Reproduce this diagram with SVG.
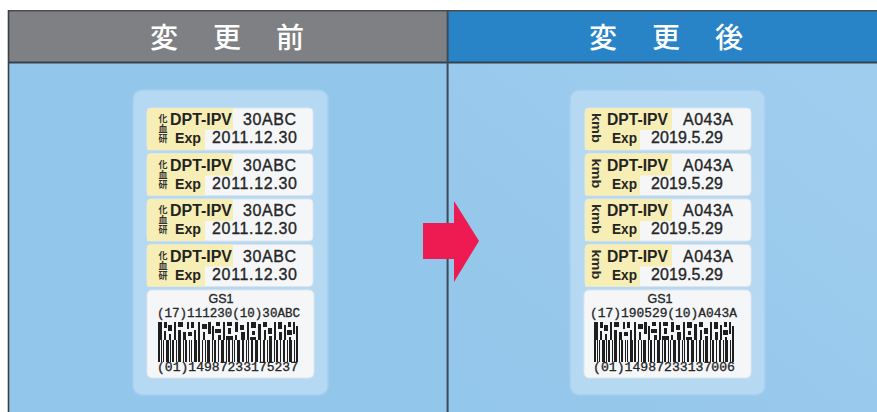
<svg xmlns="http://www.w3.org/2000/svg" width="877" height="412" viewBox="0 0 877 412">
<style>
.hd{font-family:"Noto Sans CJK JP","Noto Sans CJK SC",sans-serif;font-size:28px;font-weight:500;fill:#ffffff;text-anchor:middle}
.b{font-family:"Liberation Sans",Arial,sans-serif;font-weight:bold;fill:#232323}
.r{font-family:"Liberation Sans",Arial,sans-serif;fill:#262626;stroke:#262626;stroke-width:0.35}
.m{font-family:"Liberation Mono","Courier New",monospace;fill:#262626;stroke:#262626;stroke-width:0.3}
.kj{font-family:"Noto Sans CJK JP",sans-serif;font-size:9px;font-weight:bold;fill:#333;text-anchor:middle;writing-mode:vertical-rl;letter-spacing:1px}
.km{font-family:"Liberation Sans",Arial,sans-serif;font-weight:bold;font-size:13.5px;fill:#2a2a2a}
.strip{fill:#f5f6f8;stroke:#dfe4ea;stroke-width:1}
.yel{fill:#f6eeb4}
.card{fill:#b6d9f3;stroke:#a6cdee;stroke-width:1.5}
.bc{fill:#1e1e1e}
</style>
<defs>
<g id="bars">
<path class="bc" d="M0,18h2v22h-2zM3,18h1v22h-1zM5,18h1v22h-1zM8,18h3v22h-3zM12,18h1v22h-1zM14,18h2v22h-2zM18,18h1v22h-1zM20,18h3v22h-3zM25,18h1v22h-1zM27,18h2v22h-2zM31,18h1v22h-1zM33,18h1v22h-1zM36,18h3v22h-3zM40,18h2v22h-2zM44,18h1v22h-1zM47,18h1v22h-1zM49,18h3v22h-3zM54,18h1v22h-1zM56,18h2v22h-2zM60,18h1v22h-1zM63,18h3v22h-3zM68,18h1v22h-1zM70,18h2v22h-2zM74,18h1v22h-1zM76,18h1v22h-1zM79,18h3v22h-3zM84,18h2v22h-2zM88,18h1v22h-1zM90,18h1v22h-1zM93,18h2v22h-2zM97,18h3v22h-3zM102,18h1v22h-1zM105,18h2v22h-2zM109,18h1v22h-1zM111,18h3v22h-3zM116,18h1v22h-1zM118,18h2v22h-2zM122,18h1v22h-1zM125,18h2v22h-2zM129,18h1v22h-1zM131,18h3v22h-3zM136,18h1v22h-1zM138,18h2v22h-2z"/>
<path class="bc" d="M0,0h4v18h-4zM6,0h3v6h-3zM6,9h2v9h-2zM10,3h4v6h-4zM11,12h2v6h-2zM16,0h2v18h-2zM20,0h5v5h-5zM20,8h3v10h-3zM25,10h3v8h-3zM29,0h2v7h-2zM30,10h4v4h-4zM33,0h3v6h-3zM36,8h2v10h-2zM40,0h2v18h-2zM44,2h5v5h-5zM45,10h2v8h-2zM50,0h3v12h-3zM54,4h2v14h-2zM58,0h4v4h-4zM57,7h6v4h-6zM60,13h3v5h-3zM65,0h2v18h-2zM69,0h5v4h-5zM70,6h3v6h-3zM68,14h7v4h-7zM77,0h3v10h-3zM77,13h2v5h-2zM82,3h4v5h-4zM83,10h4v8h-4zM89,0h2v18h-2zM93,0h5v6h-5zM94,9h3v4h-3zM92,15h6v3h-6zM100,2h3v16h-3zM105,0h4v5h-4zM106,8h2v10h-2zM110,6h4v6h-4zM111,14h3v4h-3zM116,0h2v18h-2zM120,0h4v7h-4zM121,10h3v8h-3zM126,3h2v15h-2zM130,0h3v5h-3zM129,8h5v5h-5zM131,15h2v3h-2zM135,0h2v12h-2zM138,4h2v14h-2z"/>
</g>
<linearGradient id="gr" x1="0" y1="1" x2="1" y2="0">
<stop offset="0" stop-color="#93c6eb"/>
<stop offset="1" stop-color="#9fcdee"/>
</linearGradient>
</defs>

<!-- background panels -->
<g id="panels">
<rect x="8" y="62" width="440" height="350" fill="#93c6eb"/>
<rect x="447" y="62" width="430" height="350" fill="url(#gr)"/>
<rect x="8" y="10.5" width="439.5" height="52" fill="#7f8083"/>
<rect x="447.5" y="10.5" width="429.5" height="52" fill="#2884c7"/>
<line x1="8" y1="10.8" x2="877" y2="10.8" stroke="#4a4c50" stroke-width="1.6"/>
<line x1="8" y1="62.5" x2="877" y2="62.5" stroke="#36424f" stroke-width="2"/>
<line x1="8.5" y1="10" x2="8.5" y2="412" stroke="#3a4048" stroke-width="1.6"/>
<line x1="447.6" y1="10" x2="447.6" y2="412" stroke="#3d4a58" stroke-width="2"/>
</g>

<g id="header-before">
<text class="hd" x="164" y="48">変</text>
<text class="hd" x="227" y="48">更</text>
<text class="hd" x="290" y="48">前</text>
</g>
<g id="header-after">
<text class="hd" x="603" y="48">変</text>
<text class="hd" x="666" y="48">更</text>
<text class="hd" x="729" y="48">後</text>
</g>

<!-- BEFORE label -->
<g id="label-before">
<rect class="card" x="133" y="90" width="195" height="305" rx="9"/>
<g id="strip-b1">
<rect class="strip" x="147" y="108" width="166" height="42" rx="4"/>
<path class="yel" d="M151,108h82v22h-28v20h-58v-38a4,4 0 0 1 4,-4z"/>
<text class="kj" x="163" y="129.5">化血研</text>
<text class="b" x="170" y="125" font-size="16" textLength="62" lengthAdjust="spacingAndGlyphs">DPT-IPV</text>
<text class="r" x="243" y="125" font-size="16" textLength="53" lengthAdjust="spacing">30ABC</text>
<text class="b" x="175" y="143" font-size="15" textLength="26" lengthAdjust="spacingAndGlyphs">Exp</text>
<text class="r" x="212" y="143" font-size="16" textLength="85" lengthAdjust="spacing">2011.12.30</text>
</g>
<g id="strip-b2">
<rect class="strip" x="147" y="153.5" width="166" height="42" rx="4"/>
<path class="yel" d="M151,153.5h82v22h-28v20h-58v-38a4,4 0 0 1 4,-4z"/>
<text class="kj" x="163" y="175">化血研</text>
<text class="b" x="170" y="170.5" font-size="16" textLength="62" lengthAdjust="spacingAndGlyphs">DPT-IPV</text>
<text class="r" x="243" y="170.5" font-size="16" textLength="53" lengthAdjust="spacing">30ABC</text>
<text class="b" x="175" y="188.5" font-size="15" textLength="26" lengthAdjust="spacingAndGlyphs">Exp</text>
<text class="r" x="212" y="188.5" font-size="16" textLength="85" lengthAdjust="spacing">2011.12.30</text>
</g>
<g id="strip-b3">
<rect class="strip" x="147" y="199" width="166" height="42" rx="4"/>
<path class="yel" d="M151,199h82v22h-28v20h-58v-38a4,4 0 0 1 4,-4z"/>
<text class="kj" x="163" y="220.5">化血研</text>
<text class="b" x="170" y="216" font-size="16" textLength="62" lengthAdjust="spacingAndGlyphs">DPT-IPV</text>
<text class="r" x="243" y="216" font-size="16" textLength="53" lengthAdjust="spacing">30ABC</text>
<text class="b" x="175" y="234" font-size="15" textLength="26" lengthAdjust="spacingAndGlyphs">Exp</text>
<text class="r" x="212" y="234" font-size="16" textLength="85" lengthAdjust="spacing">2011.12.30</text>
</g>
<g id="strip-b4">
<rect class="strip" x="147" y="244.5" width="166" height="42" rx="4"/>
<path class="yel" d="M151,244.5h82v22h-28v20h-58v-38a4,4 0 0 1 4,-4z"/>
<text class="kj" x="163" y="266">化血研</text>
<text class="b" x="170" y="261.5" font-size="16" textLength="62" lengthAdjust="spacingAndGlyphs">DPT-IPV</text>
<text class="r" x="243" y="261.5" font-size="16" textLength="53" lengthAdjust="spacing">30ABC</text>
<text class="b" x="175" y="279.5" font-size="15" textLength="26" lengthAdjust="spacingAndGlyphs">Exp</text>
<text class="r" x="212" y="279.5" font-size="16" textLength="85" lengthAdjust="spacing">2011.12.30</text>
</g>
<g id="barcode-before">
<rect class="strip" x="147" y="290" width="167" height="88" rx="5"/>
<text class="r" x="221" y="303" font-size="12.5" text-anchor="middle">GS1</text>
<text class="m" x="157" y="317" font-size="12.5" textLength="143" lengthAdjust="spacingAndGlyphs">(17)111230(10)30ABC</text>
<use href="#bars" transform="translate(158,322)"/>
<text class="m" x="157" y="371" font-size="12.5" textLength="141" lengthAdjust="spacingAndGlyphs">(01)14987233175237</text>
</g>
</g>

<!-- AFTER label -->
<g id="label-after">
<rect class="card" x="570" y="90" width="195" height="305" rx="9"/>
<g id="strip-a1">
<rect class="strip" x="585" y="108" width="166" height="42" rx="4"/>
<path class="yel" d="M589,108h83v22h-32v20h-55v-38a4,4 0 0 1 4,-4z"/>
<text class="km" transform="translate(592,113) rotate(90)" textLength="30" lengthAdjust="spacingAndGlyphs">kmb</text>
<text class="b" x="607" y="125" font-size="16" textLength="61" lengthAdjust="spacingAndGlyphs">DPT-IPV</text>
<text class="r" x="683" y="125" font-size="16" textLength="50" lengthAdjust="spacing">A043A</text>
<text class="b" x="612" y="143" font-size="15" textLength="25" lengthAdjust="spacingAndGlyphs">Exp</text>
<text class="r" x="651" y="143" font-size="16" textLength="72" lengthAdjust="spacing">2019.5.29</text>
</g>
<g id="strip-a2">
<rect class="strip" x="585" y="153.5" width="166" height="42" rx="4"/>
<path class="yel" d="M589,153.5h83v22h-32v20h-55v-38a4,4 0 0 1 4,-4z"/>
<text class="km" transform="translate(592,158.5) rotate(90)" textLength="30" lengthAdjust="spacingAndGlyphs">kmb</text>
<text class="b" x="607" y="170.5" font-size="16" textLength="61" lengthAdjust="spacingAndGlyphs">DPT-IPV</text>
<text class="r" x="683" y="170.5" font-size="16" textLength="50" lengthAdjust="spacing">A043A</text>
<text class="b" x="612" y="188.5" font-size="15" textLength="25" lengthAdjust="spacingAndGlyphs">Exp</text>
<text class="r" x="651" y="188.5" font-size="16" textLength="72" lengthAdjust="spacing">2019.5.29</text>
</g>
<g id="strip-a3">
<rect class="strip" x="585" y="199" width="166" height="42" rx="4"/>
<path class="yel" d="M589,199h83v22h-32v20h-55v-38a4,4 0 0 1 4,-4z"/>
<text class="km" transform="translate(592,204) rotate(90)" textLength="30" lengthAdjust="spacingAndGlyphs">kmb</text>
<text class="b" x="607" y="216" font-size="16" textLength="61" lengthAdjust="spacingAndGlyphs">DPT-IPV</text>
<text class="r" x="683" y="216" font-size="16" textLength="50" lengthAdjust="spacing">A043A</text>
<text class="b" x="612" y="234" font-size="15" textLength="25" lengthAdjust="spacingAndGlyphs">Exp</text>
<text class="r" x="651" y="234" font-size="16" textLength="72" lengthAdjust="spacing">2019.5.29</text>
</g>
<g id="strip-a4">
<rect class="strip" x="585" y="244.5" width="166" height="42" rx="4"/>
<path class="yel" d="M589,244.5h83v22h-32v20h-55v-38a4,4 0 0 1 4,-4z"/>
<text class="km" transform="translate(592,249.5) rotate(90)" textLength="30" lengthAdjust="spacingAndGlyphs">kmb</text>
<text class="b" x="607" y="261.5" font-size="16" textLength="61" lengthAdjust="spacingAndGlyphs">DPT-IPV</text>
<text class="r" x="683" y="261.5" font-size="16" textLength="50" lengthAdjust="spacing">A043A</text>
<text class="b" x="612" y="279.5" font-size="15" textLength="25" lengthAdjust="spacingAndGlyphs">Exp</text>
<text class="r" x="651" y="279.5" font-size="16" textLength="72" lengthAdjust="spacing">2019.5.29</text>
</g>
<g id="barcode-after">
<rect class="strip" x="584" y="290" width="167" height="88" rx="5"/>
<text class="r" x="660" y="303" font-size="12.5" text-anchor="middle">GS1</text>
<text class="m" x="590" y="317" font-size="12.5" textLength="147" lengthAdjust="spacingAndGlyphs">(17)190529(10)A043A</text>
<use href="#bars" transform="translate(594,322)"/>
<text class="m" x="593" y="371" font-size="12.5" textLength="142" lengthAdjust="spacingAndGlyphs">(01)14987233137006</text>
</g>
</g>

<g id="connectors">
<path d="M423,223H454V201L479,241L454,282V259H423Z" fill="#ee1b52"/>
</g>
</svg>
